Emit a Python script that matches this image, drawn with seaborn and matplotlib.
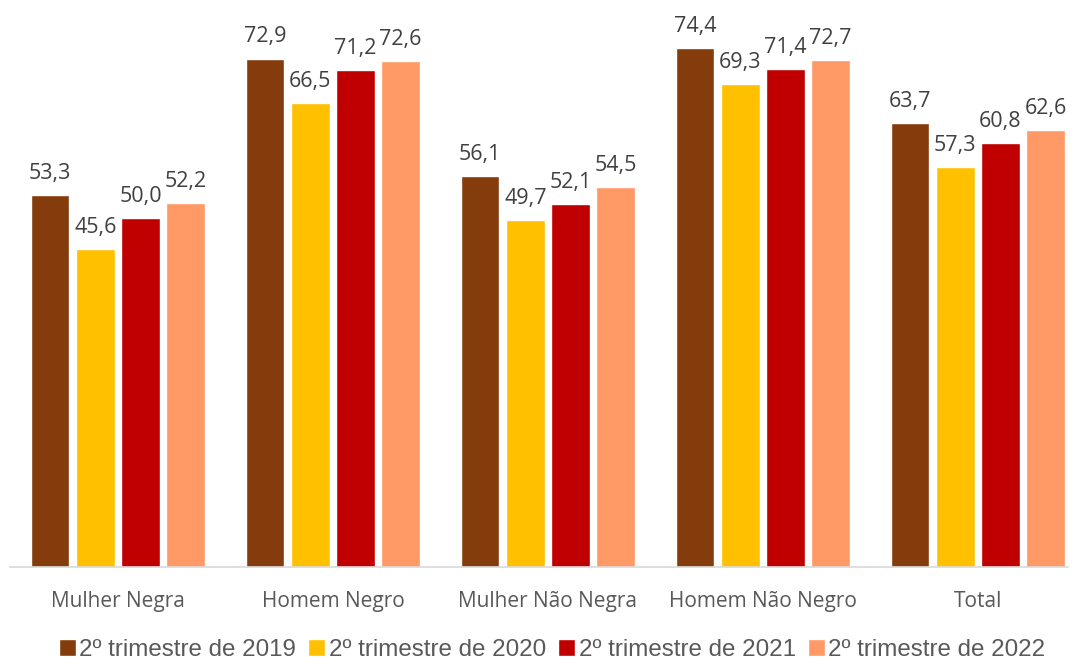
import pandas as pd
import matplotlib.pyplot as plt
import seaborn as sns

categorias = ['Mulher Negra', 'Homem Negro', 'Mulher Não Negra', 'Homem Não Negro', 'Total']
series = ['2º trimestre de 2019', '2º trimestre de 2020', '2º trimestre de 2021', '2º trimestre de 2022']
v2019 = [53.3, 72.9, 56.1, 74.4, 63.7]
v2020 = [45.6, 66.5, 49.7, 69.3, 57.3]
v2021 = [50.0, 71.2, 52.1, 71.4, 60.8]
v2022 = [52.2, 72.6, 54.5, 72.7, 62.6]
cores = ['#843C0C', '#FFC000', '#C00000', '#FF9966']

rows = []
for s, vals in zip(series, [v2019, v2020, v2021, v2022]):
    for c, v in zip(categorias, vals):
        rows.append({'categoria': c, 'serie': s, 'valor': v})
df = pd.DataFrame(rows)

sns.set_style('white')
plt.rcParams['font.family'] = ['Open Sans', 'DejaVu Sans']

fig = plt.figure(figsize=(10.72, 6.6), dpi=100)
ax = fig.add_axes([10 / 1072, 93 / 660, 1058 / 1072, 567 / 660])

sns.barplot(data=df, x='categoria', y='valor', hue='serie', palette=cores,
            width=0.84, gap=0.15, ax=ax, legend=True, saturation=1)

for cont in ax.containers:
    labels = ['{:.1f}'.format(b.get_height()).replace('.', ',') for b in cont]
    ax.bar_label(cont, labels=labels, padding=8, fontsize=15.5, color='#404040')

ax.set_xlim(-0.502, 4.419)
ax.set_ylim(0, 81.3)
ax.set_yticks([])
ax.set_xlabel('')
ax.set_ylabel('')
for sp in ['top', 'left', 'right']:
    ax.spines[sp].set_visible(False)
ax.spines['bottom'].set_color('#D9D9D9')
ax.spines['bottom'].set_linewidth(1.2)
ax.tick_params(axis='x', length=0, pad=17, labelsize=15, labelcolor='#595959')

handles, lbls = ax.get_legend_handles_labels()
ax.get_legend().remove()
leg = fig.legend(handles, lbls, loc='center', bbox_to_anchor=(552 / 1072, 1 - 650 / 660), ncol=4,
                 frameon=False, handlelength=0.7, handleheight=0.7, handletextpad=0.15,
                 columnspacing=0.5, prop={'family': 'Liberation Sans', 'size': 17.4})
for t in leg.get_texts():
    t.set_color('#595959')

fig.savefig('out.png', dpi=100)
